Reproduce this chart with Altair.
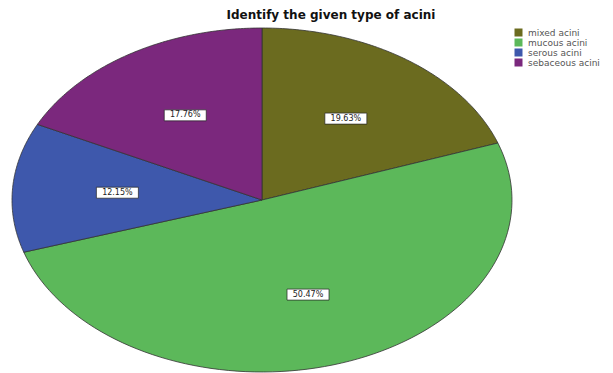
import altair as alt
import pandas as pd

# ---- data ----
categories = ["mixed acini", "mucous acini", "serous acini", "sebaceous acini"]
counts = [21, 54, 13, 19]          # gives 19.63%, 50.47%, 12.15%, 17.76%
colors = ["#6b6b1f", "#5cb85a", "#3e58ac", "#7b287d"]
title_text = "Identify the given type of acini"

N = 90  # arc resolution per slice
base = pd.DataFrame({"category": categories, "count": counts,
                     "idx": list(range(len(categories)))})
pie_df = base.copy()
pie_df["step"] = [[-1] + list(range(N + 1)) for _ in categories]

x_scale = alt.Scale(domain=[-1, 1], range=[12, 512])
y_scale = alt.Scale(domain=[-1, 1], range=[372, 28])


def with_cum(ch):
    return (ch.transform_joinaggregate(total="sum(count)")
              .transform_window(cum="sum(count)", sort=[alt.SortField("idx")], frame=[None, 0])
              .transform_calculate(start="datum.cum - datum.count"))


pie = (with_cum(alt.Chart(pie_df))
       .transform_flatten(["step"])
       .transform_calculate(ang=f"2*PI*(datum.start + max(datum.step,0)/{N}*datum.count)/datum.total")
       .transform_calculate(px="datum.step < 0 ? 0 : sin(datum.ang)",
                            py="datum.step < 0 ? 0 : cos(datum.ang)")
       .mark_line(filled=True, interpolate="linear-closed", stroke="#333333",
                  strokeWidth=0.8, strokeJoin="round")
       .encode(
           x=alt.X("px:Q", scale=x_scale, axis=None),
           y=alt.Y("py:Q", scale=y_scale, axis=None),
           color=alt.Color("category:N", sort=categories,
                           scale=alt.Scale(domain=categories, range=colors),
                           legend=alt.Legend(title=None, orient="none", legendX=514, legendY=28,
                                             symbolType="square", symbolSize=64,
                                             symbolStrokeWidth=0, rowPadding=-1,
                                             labelFontSize=9, labelFont="DejaVu Sans",
                                             labelColor="#555555", padding=0, labelOffset=5)),
           detail="category:N",
           order=alt.Order("step:Q"),
       ))

labels_base = (with_cum(alt.Chart(base))
               .transform_calculate(mid="2*PI*(datum.start + datum.count/2)/datum.total")
               .transform_calculate(lx="0.58*sin(datum.mid)", ly="0.58*cos(datum.mid)",
                                    pct="format(100*datum.count/datum.total, '.2f') + '%'")
               .transform_calculate(x0="datum.lx - 0.084", x1="datum.lx + 0.084",
                                    y0="datum.ly - 0.032", y1="datum.ly + 0.032"))

rects = labels_base.mark_rect(fill="white", stroke="#222222", strokeWidth=0.7).encode(
    x=alt.X("x0:Q", scale=x_scale, axis=None), x2="x1:Q",
    y=alt.Y("y0:Q", scale=y_scale, axis=None), y2="y1:Q",
)

texts = labels_base.mark_text(font="DejaVu Sans", fontSize=8, color="#222222",
                              align="center", baseline="middle").encode(
    x=alt.X("lx:Q", scale=x_scale, axis=None),
    y=alt.Y("ly:Q", scale=y_scale, axis=None),
    text="pct:N",
)

title = alt.Chart(pd.DataFrame({"t": [title_text]})).mark_text(
    font="DejaVu Sans", fontWeight="bold", fontSize=12, align="center",
    baseline="alphabetic", color="#111111").encode(
    x=alt.value(331), y=alt.value(19), text="t:N")

chart = (alt.layer(pie, rects, texts, title)
         .properties(width=613, height=373, padding=0,
                     autosize=alt.AutoSizeParams(type="none"))
         .configure_view(stroke=None))

chart.save("out.html", embed_options={"renderer": "svg", "actions": False})
